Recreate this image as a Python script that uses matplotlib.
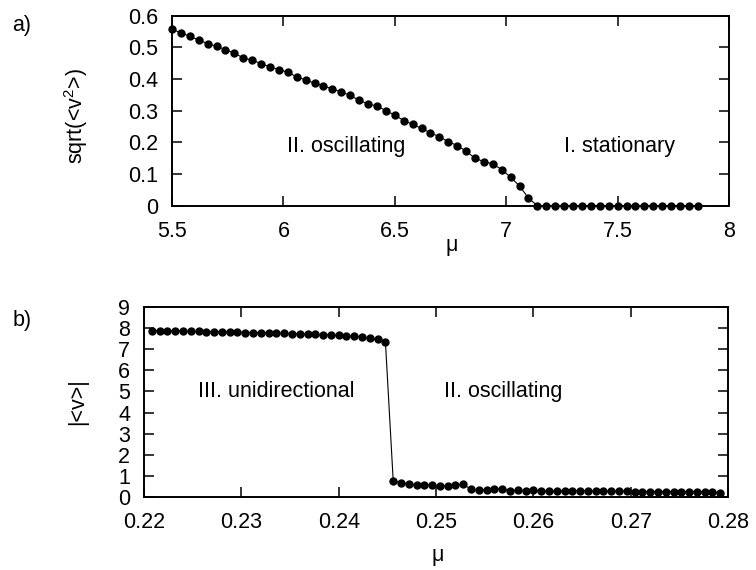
import matplotlib
matplotlib.use('Agg')
import matplotlib.pyplot as plt
from matplotlib.ticker import FuncFormatter

plt.rcParams['font.family'] = ['Liberation Sans', 'DejaVu Sans']
plt.rcParams['mathtext.default'] = 'regular'
plt.rcParams['font.size'] = 15.5

# panel a): rms velocity vs mu
mu_a = [5.50, 5.54, 5.58, 5.62, 5.66, 5.70, 5.74, 5.78, 5.82, 5.86,
        5.90, 5.94, 5.98, 6.02, 6.06, 6.10, 6.14, 6.18, 6.22, 6.26,
        6.30, 6.34, 6.38, 6.42, 6.46, 6.50, 6.54, 6.58, 6.62, 6.66,
        6.70, 6.74, 6.78, 6.82, 6.86, 6.90, 6.94, 6.98, 7.02, 7.06,
        7.10, 7.14, 7.18, 7.22, 7.26, 7.30, 7.34, 7.38, 7.42, 7.46,
        7.50, 7.54, 7.58, 7.62, 7.66, 7.70, 7.74, 7.78, 7.82, 7.86]
vrms_a = [0.557, 0.546, 0.535, 0.523, 0.512, 0.503, 0.493, 0.481, 0.467, 0.459,
          0.449, 0.438, 0.430, 0.421, 0.407, 0.397, 0.387, 0.378, 0.369, 0.359,
          0.348, 0.333, 0.321, 0.315, 0.300, 0.286, 0.269, 0.257, 0.244, 0.230,
          0.218, 0.202, 0.190, 0.172, 0.150, 0.139, 0.132, 0.114, 0.090, 0.062,
          0.024, 0.0, 0.0, 0.0, 0.0, 0.0, 0.0, 0.0, 0.0, 0.0,
          0.0, 0.0, 0.0, 0.0, 0.0, 0.0, 0.0, 0.0, 0.0, 0.0]

# panel b): |<v>| vs mu
mu_b = [0.2208, 0.2216, 0.2224, 0.2232, 0.2240, 0.2248, 0.2256, 0.2264, 0.2272, 0.2280,
        0.2288, 0.2296, 0.2304, 0.2312, 0.2320, 0.2328, 0.2336, 0.2344, 0.2352, 0.2360,
        0.2368, 0.2376, 0.2384, 0.2392, 0.2400, 0.2408, 0.2416, 0.2424, 0.2432, 0.2440,
        0.2448,
        0.2456, 0.2464, 0.2472, 0.2480, 0.2488, 0.2496, 0.2504, 0.2512, 0.2520, 0.2528,
        0.2536, 0.2544, 0.2552, 0.2560, 0.2568, 0.2576, 0.2584, 0.2592, 0.2600, 0.2608,
        0.2616, 0.2624, 0.2632, 0.2640, 0.2648, 0.2656, 0.2664, 0.2672, 0.2680, 0.2688,
        0.2696, 0.2704, 0.2712, 0.2720, 0.2728, 0.2736, 0.2744, 0.2752, 0.2760, 0.2768,
        0.2776, 0.2784, 0.2792]
vmean_b = [7.88, 7.88, 7.87, 7.87, 7.86, 7.85, 7.85, 7.84, 7.83, 7.83,
           7.82, 7.81, 7.80, 7.80, 7.79, 7.78, 7.77, 7.76, 7.75, 7.74,
           7.72, 7.71, 7.70, 7.68, 7.66, 7.64, 7.62, 7.58, 7.53, 7.47,
           7.37,
           0.76, 0.66, 0.60, 0.55, 0.56, 0.54, 0.51, 0.50, 0.57, 0.59,
           0.35, 0.30, 0.33, 0.35, 0.37, 0.28, 0.33, 0.27, 0.30, 0.26,
           0.26, 0.27, 0.28, 0.28, 0.29, 0.28, 0.26, 0.25, 0.26, 0.25,
           0.29, 0.24, 0.24, 0.24, 0.24, 0.24, 0.24, 0.22, 0.23, 0.23,
           0.22, 0.22, 0.19]

xticks_a = [5.5, 6, 6.5, 7, 7.5, 8]
yticks_a = [0, 0.1, 0.2, 0.3, 0.4, 0.5, 0.6]
xticks_b = [0.22, 0.23, 0.24, 0.25, 0.26, 0.27, 0.28]
yticks_b = [0, 1, 2, 3, 4, 5, 6, 7, 8, 9]

fig = plt.figure(figsize=(7.56, 5.70), dpi=100)
ax1 = fig.add_axes([0.2275, 0.6391, 0.7368, 0.3334])
ax2 = fig.add_axes([0.1905, 0.1286, 0.7725, 0.3323])

fmt = FuncFormatter(lambda v, p: '%g' % v)

for ax in (ax1, ax2):
    for s in ax.spines.values():
        s.set_linewidth(1.4)
    ax.tick_params(direction='in', length=7, width=1.1, top=True, right=True,
                   labelsize=15.5)
    ax.tick_params(axis='x', pad=11)
    ax.tick_params(axis='y', pad=10)
    ax.xaxis.set_major_formatter(fmt)
    ax.yaxis.set_major_formatter(fmt)

ax1.plot(mu_a, vrms_a, color='black', linewidth=0.8, marker='o',
         markersize=5, clip_on=False)
ax1.set_xlim(5.5, 8)
ax1.set_ylim(0, 0.6)
ax1.set_xticks(xticks_a)
ax1.set_yticks(yticks_a)
ax1.text(6.28, 0.188, 'II. oscillating', ha='center', va='center')
ax1.text(7.51, 0.188, 'I. stationary', ha='center', va='center')

ax2.plot(mu_b, vmean_b, color='black', linewidth=0.8, marker='o',
         markersize=5, clip_on=False)
ax2.set_xlim(0.22, 0.28)
ax2.set_ylim(0, 9)
ax2.set_xticks(xticks_b)
ax2.set_yticks(yticks_b)
ax2.text(0.2336, 4.98, 'III. unidirectional', ha='center', va='center')
ax2.text(0.2569, 4.98, 'II. oscillating', ha='center', va='center')

fig.text(0.1005, 0.796, 'sqrt(<v$^{2}$>)', rotation=90, ha='center', va='center')
fig.text(0.103, 0.295, '|<v>|', rotation=90, ha='center', va='center')
fig.text(0.597, 0.570, 'μ', ha='center', va='center')
fig.text(0.579, 0.0246, 'μ', ha='center', va='center')
fig.text(0.028, 0.956, 'a)', ha='center', va='center')
fig.text(0.029, 0.437, 'b)', ha='center', va='center')

fig.savefig('out.png', dpi=100)
